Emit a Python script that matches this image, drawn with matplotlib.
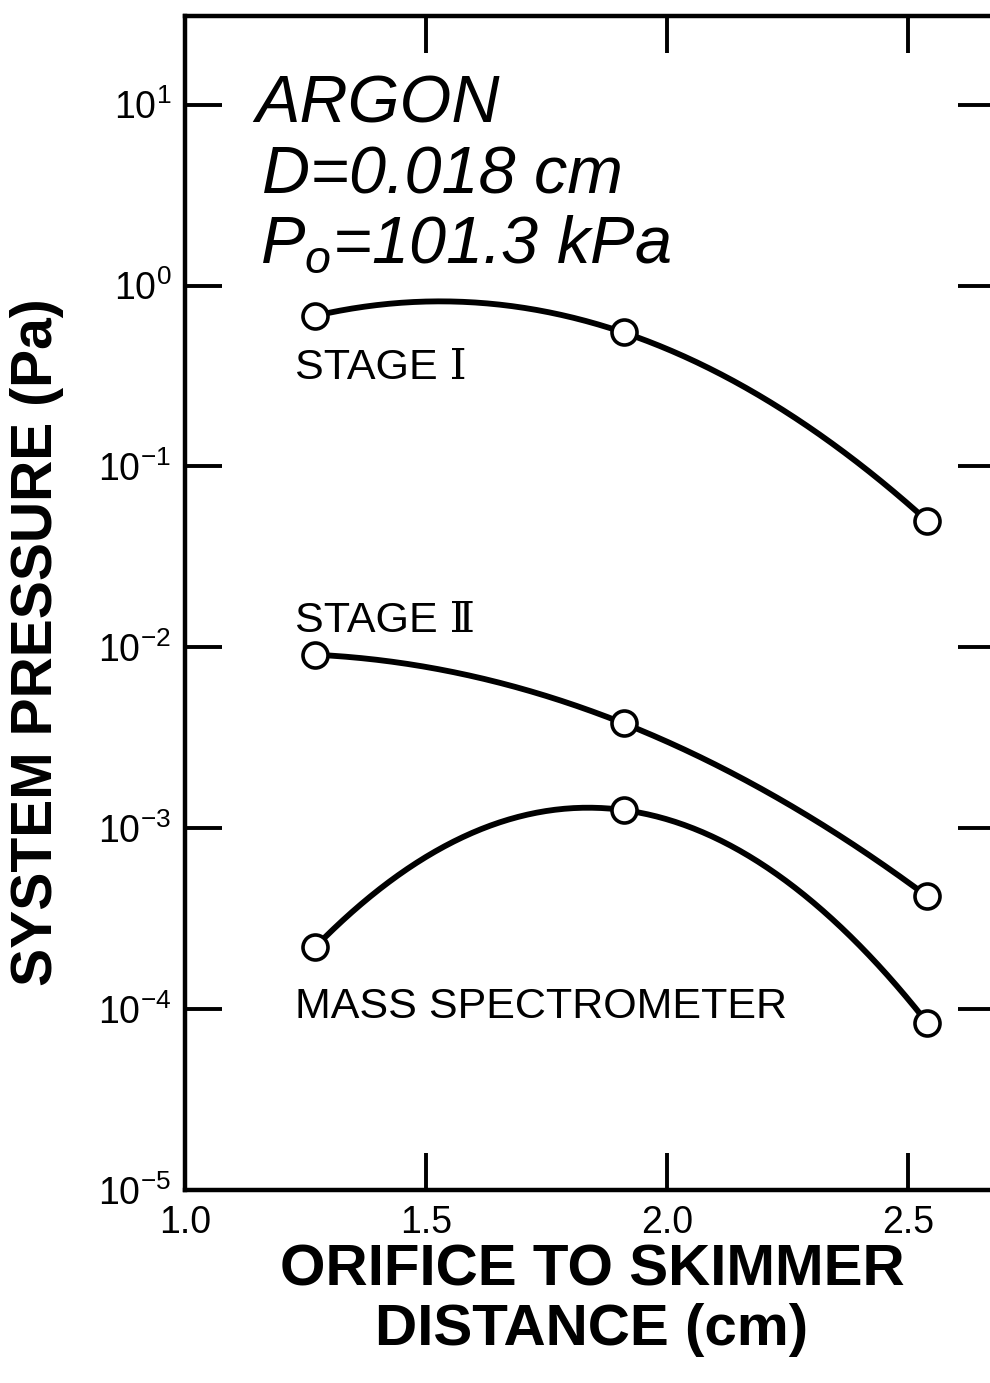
import numpy as np
import matplotlib
matplotlib.use("Agg")
import matplotlib.pyplot as plt
from matplotlib.ticker import NullLocator, FixedLocator

plt.rcParams['font.family'] = ['Liberation Sans', 'DejaVu Sans']
plt.rcParams['mathtext.fontset'] = 'custom'
plt.rcParams['mathtext.rm'] = 'Liberation Sans'
plt.rcParams['mathtext.it'] = 'Liberation Sans:italic'
plt.rcParams['mathtext.bf'] = 'Liberation Sans:bold'

# ---- data ----
distance = [1.27, 1.91, 2.54]
stage1 = [0.68, 0.55, 0.050]
stage2 = [0.0091, 0.0038, 0.00042]
mass_spec = [0.00022, 0.00126, 0.000084]
series_labels = ["STAGE ", "STAGE ", "MASS SPECTROMETER"]
series_numerals = ["\u2160", "\u2161", ""]
x_ticks = [1.0, 1.5, 2.0, 2.5]
x_ticklabels = ["1.0", "1.5", "2.0", "2.5"]
y_ticks = [1e-5, 1e-4, 1e-3, 1e-2, 1e-1, 1e0, 1e1]
y_ticklabels = [r"$10^{-5}$", r"$10^{-4}$", r"$10^{-3}$", r"$10^{-2}$",
                r"$10^{-1}$", r"$10^{0}$", r"$10^{1}$"]

W, H = 990, 1383
fig = plt.figure(figsize=(W / 100, H / 100), dpi=100)
left, right, top, bottom = 185, 995, 16, 1190
ax = fig.add_axes([left / W, 1 - bottom / H, (right - left) / W, (bottom - top) / H])

ax.set_yscale('log')
ax.set_xlim(1.0, 1.0 + (right - left) / 482.0)
ax.set_ylim(1e-5, 10 ** 1.49)

for ys in (stage1, stage2, mass_spec):
    xs = np.array(distance)
    ly = np.log10(ys)
    coef = np.polyfit(xs, ly, 2)
    xx = np.linspace(xs[0], xs[-1], 200)
    ax.plot(xx, 10 ** np.polyval(coef, xx), color='black', lw=4.2,
            solid_capstyle='round', zorder=2)
    ax.plot(xs, ys, 'o', ms=18, mfc='white', mec='black', mew=2.6, zorder=3)

for sp in ax.spines.values():
    sp.set_linewidth(3.2)

ax.xaxis.set_major_locator(FixedLocator(x_ticks))
ax.set_xticklabels(x_ticklabels)
ax.yaxis.set_major_locator(FixedLocator(y_ticks))
ax.set_yticklabels(y_ticklabels)
ax.yaxis.set_minor_locator(NullLocator())
ax.xaxis.set_minor_locator(NullLocator())

ax.tick_params(axis='both', which='major', direction='in', width=2.8, length=26.5,
               top=True, right=True)
ax.tick_params(axis='x', labelsize=27, pad=11)
ax.tick_params(axis='y', labelsize=27, pad=10)

# annotations
ax.text(0.0864, 0.909, "ARGON", transform=ax.transAxes, fontsize=48,
        style='italic', va='baseline', ha='left')
ax.text(0.095, 0.849, "D=0.018 cm", transform=ax.transAxes, fontsize=48,
        style='italic', va='baseline', ha='left')
ax.text(0.0926, 0.790, r"$P_{o}$=101.3 kPa", transform=ax.transAxes, fontsize=48,
        style='italic', va='baseline', ha='left')

label_pos = [(0.136, 0.691), (0.136, 0.475), (0.136, 0.1465)]
for lab, num, (px, py) in zip(series_labels, series_numerals, label_pos):
    t = ax.text(px, py, lab + num, transform=ax.transAxes, fontsize=31,
                va='baseline', ha='left',
                family=['Liberation Sans', 'DejaVu Serif'])

fig.text(592 / W, 1 - 1243 / H, "ORIFICE TO SKIMMER\nDISTANCE (cm)", ha='center',
         va='top', fontsize=42, fontweight='bold', linespacing=1.15)
fig.text(37 / W, 1 - 642 / H, "SYSTEM PRESSURE (Pa)", ha='center', va='center',
         rotation=90, fontsize=41, fontweight='bold')

fig.savefig("out.png", dpi=100)
